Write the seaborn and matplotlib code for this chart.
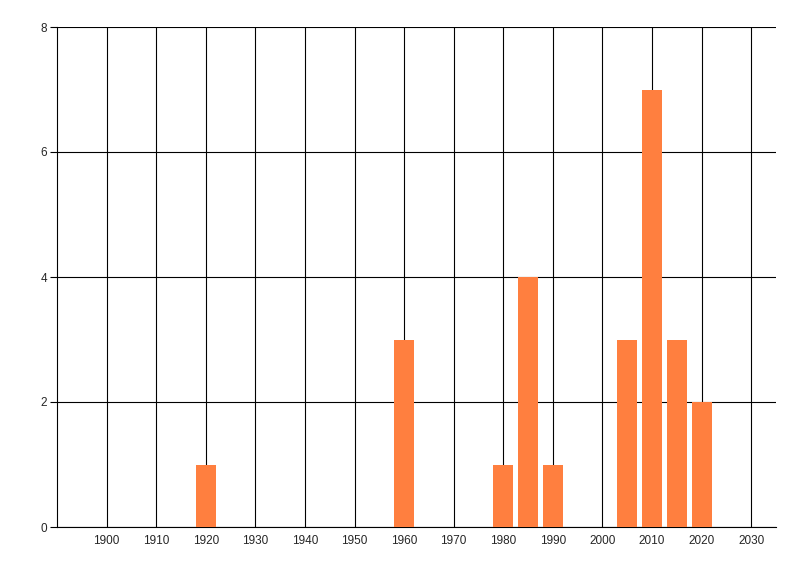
import numpy as np
import pandas as pd
import seaborn as sns
import matplotlib.pyplot as plt

# values
years = [1920, 1960, 1980, 1985, 1990, 2005, 2010, 2015, 2020]
counts = [1, 3, 1, 4, 1, 3, 7, 3, 2]
x_ticks = list(range(1900, 2031, 10))
y_ticks = [0, 2, 4, 6, 8]

df = pd.DataFrame({'year': years, 'count': counts})

sns.set_style('white')
plt.rcParams['font.family'] = ['Liberation Sans', 'DejaVu Sans']

fig = plt.figure(figsize=(8, 5.76), dpi=100)
ax = fig.add_axes([57 / 800, 1 - 527 / 576, (776 - 57) / 800, 500 / 576])

sns.barplot(x='year', y='count', data=df, native_scale=True, width=0.8,
            color='#FF7F3F', saturation=1, linewidth=0, edgecolor='none',
            ax=ax, zorder=3)

ax.set_xlim(1890, 2035)
ax.set_ylim(0, 8)
ax.set_xticks(x_ticks)
ax.set_xticklabels([str(t) for t in x_ticks])
ax.set_yticks(y_ticks)
ax.set_xlabel('')
ax.set_ylabel('')

ax.grid(True, color='black', linewidth=0.8, zorder=0)
ax.set_axisbelow(True)
for side in ['top', 'right']:
    ax.spines[side].set_visible(False)
for side in ['left', 'bottom']:
    ax.spines[side].set_color('black')
    ax.spines[side].set_linewidth(0.8)

ax.tick_params(axis='y', length=5, width=0.8, color='black', labelsize=8.5, pad=2, left=True)
ax.tick_params(axis='x', length=0, labelsize=8.5, pad=6)

fig.savefig('out.png', dpi=100)
